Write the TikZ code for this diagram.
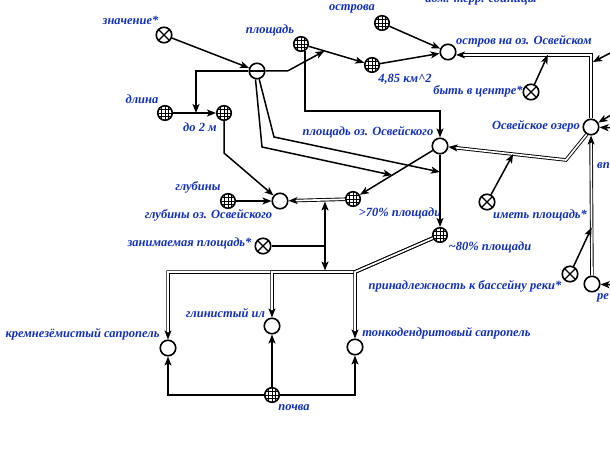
\documentclass[tikz,border=0pt]{standalone}
\usepackage{fontspec}
\setmainfont{Liberation Serif}
\usetikzlibrary{arrows.meta,calc}
\definecolor{labblue}{RGB}{18,48,190}
\begin{document}
\begin{tikzpicture}[x=1pt,y=-1pt,
  every node/.style={inner sep=0pt},
  base/.style={circle,draw,line width=1.6pt,minimum size=15.5pt,fill=white},
  plain/.style={base},
  gridn/.style={base,minimum size=14.5pt,path picture={
     \foreach \d in {-3.6,0,3.6}{
       \draw[line width=0.8pt] ([xshift=\d pt]path picture bounding box.north) -- ([xshift=\d pt]path picture bounding box.south);
       \draw[line width=0.8pt] ([yshift=\d pt]path picture bounding box.west) -- ([yshift=\d pt]path picture bounding box.east);}}},
  xn/.style={base,path picture={\draw[line width=1.3pt]
       (path picture bounding box.north west) -- (path picture bounding box.south east)
       (path picture bounding box.north east) -- (path picture bounding box.south west);}},
  mn/.style={base,path picture={\draw[line width=1.3pt]
       (path picture bounding box.west) -- (path picture bounding box.east);}},
  lab/.style={font=\bfseries\itshape\fontsize{12.5}{14}\selectfont,text=labblue},
  tip/.style={-{Stealth[length=9pt,width=7pt,inset=2.2pt]}},
  ln/.style={line width=1.5pt},
  arr/.style={ln,tip},
  dbl/.style={double,line width=0.9pt,double distance=1.7pt,tip},
]
\useasboundingbox (0,0) rectangle (610,449);

% concept nodes
\node[xn] (za) at (164,35) {};
\node[mn] (mi) at (257,71) {};
\node[gridn] (pl) at (301,44) {};
\node[gridn] (km) at (372,65) {};
\node[gridn] (os) at (382,23) {};
\node[plain] (ost) at (448,52) {};
\node[xn] (by) at (531,92) {};
\node[plain] (oz) at (591,127) {};
\node[gridn] (dl) at (165,113) {};
\node[gridn] (d2) at (224,113) {};
\node[plain] (po) at (440,146) {};
\node[gridn] (gl) at (228,201) {};
\node[plain] (go) at (280,201) {};
\node[xn] (zn) at (263,246) {};
\node[gridn] (p70) at (353,199) {};
\node[xn] (im) at (487,202) {};
\node[gridn] (p80) at (440,235) {};
\node[xn] (pr) at (570,274) {};
\node[plain] (re) at (592,284) {};
\node[plain] (kr) at (168,348) {};
\node[plain] (gi) at (272,326) {};
\node[plain] (to) at (355,347) {};
\node[gridn] (pv) at (272,395) {};

% labels
\node[lab] (tza) at (130.5,20) {значение*};
\node[lab] (tpl) at (270,30) {площадь};
\node[lab] (tos) at (352,9) {острова};
\node[lab,anchor=base] (tadm) at (481,3) {адм.-терр. единицы};
\node[lab] (tost) at (524,41) {остров на оз. Освейском};
\node[lab] (tkm) at (405,79) {4,85 км\textasciicircum 2};
\node[lab] (tby) at (478,91) {быть в центре*};
\node[lab] (toz) at (536,126) {Освейское озеро};
\node[lab] (tdl) at (142,99) {длина};
\node[lab] (td2) at (200,127) {до 2 м};
\node[lab] (tpo) at (368,132) {площадь оз. Освейского};
\node[lab] (tgl) at (198,187) {глубины};
\node[lab] (tgo) at (208.5,215) {глубины оз. Освейского};
\node[lab] (tzn) at (189.5,243) {занимаемая площадь*};
\node[lab] (tp70) at (400,213) {>70\% площади};
\node[lab] (tp80) at (490,247) {\textasciitilde 80\% площади};
\node[lab] (tim) at (540,215) {иметь площадь*};
\node[lab] (tpr) at (465,286) {принадлежность к бассейну реки*};
\node[lab,anchor=west] (tvp) at (597,166) {вп};
\node[lab,anchor=west] (tre) at (597,298) {ре};
\node[lab] (tgi) at (225.5,313) {глинистый ил};
\node[lab] (tkr) at (82.5,334) {кремнезёмистый сапропель};
\node[lab] (tto) at (446.5,333) {тонкодендритовый сапропель};
\node[lab] (tpv) at (294,408) {почва};

% helper points on connectors
\coordinate (c1) at (196,113);
\coordinate (c2) at ($(pl)!0.33!(km)$);
\coordinate (b1) at (440,111);
\coordinate (c3) at ($(po)!0.55!(p70)$);
\coordinate (c4) at (440,172);
\coordinate (bend1) at (566,160);
\coordinate (c5) at ($(bend1)!0.42!(po)$);
\coordinate (c6) at ($(oz.north |- ost.-20)!0.32!(ost.-20)$);
\coordinate (c7) at ($(re)!0.36!(oz)$);
\coordinate (e1) at (616,50);
\coordinate (e1t) at (593,62);
\coordinate (e2) at (616,112);
\coordinate (e3) at (616,128);
\coordinate (e4) at (616,285);
\coordinate (v1) at (325,201.5);
\coordinate (v2) at (325,270.5);
\coordinate (v3) at (325,246);
\coordinate (j1) at (355,272);

% connectors
\draw[arr] (za) -- (mi);
\draw[arr] (dl) -- (d2);
\draw[arr] (mi.west) -| (c1);
\draw[arr] (pl) -- (km);
\draw[arr] (mi.east) -- ++(22,0) -- (c2);
\draw[arr] (os) -- (ost);
\draw[arr] (km) -- (ost);
\draw[arr] (pl.-60) |- (b1) -- (po);
\draw[arr] (mi.-100) -- (262,147) -- (c3);
\draw[arr] (mi.-75) -- (274,137) -- (c4);
\draw[arr] (po) -- (p70);
\draw[arr] (po) -- (p80);
\draw[dbl] (oz.-120) -- (bend1) -- (po);
\draw[arr] (im) -- (c5);
\draw[dbl] (oz.north) |- (ost.-20);
\draw[arr] (by) -- (c6);
\draw[dbl] (re) -- (oz);
\draw[arr] (pr) -- (c7);
\draw[arr] (e1) -- (e1t);
\draw[arr] (e2) -- (oz);
\draw[arr] (e3) -- (oz);
\draw[arr] (e4) -- (re);
\draw[arr] (gl) -- (go);
\draw[arr] (d2) -- (224,153) -- (go);
\draw[dbl] (p70) -- (go);
\draw[ln,{Stealth[length=9pt,width=7pt,inset=2.2pt]}-{Stealth[length=9pt,width=7pt,inset=2.2pt]}] (v1) -- (v2);
\draw[ln] (zn) -- (v3);
\draw[dbl] (p80) -- (j1) -| (kr);
\draw[dbl] (p80) -- (j1) -| (gi);
\draw[dbl] (p80) -- (j1) -- (to);
\draw[arr] (pv) -| (kr);
\draw[arr] (pv) -- (gi);
\draw[arr] (pv) -| (to);
\end{tikzpicture}
\end{document}
